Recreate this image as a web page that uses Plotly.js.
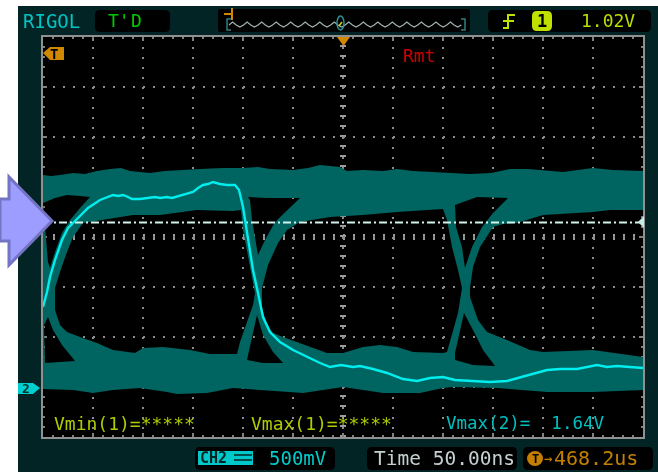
<!DOCTYPE html>
<html><head><meta charset="utf-8">
<script src="https://cdn.plot.ly/plotly-3.0.1.min.js"></script>
<style>html,body{margin:0;padding:0;background:#fff}#chart{filter:blur(0.45px)}</style></head>
<body><div id="chart" style="width:658px;height:472px"></div>
<script>
// Channel 2 acquired trace (x: ns, y: V)
const traceNs = [-300,-296,-293,-288,-281,-275,-265,-255,-243,-236,-230,-225,-220,-215,-211,-203,-196,-188,-183,-176,-171,-160,-150,-145,-140,-135,-130,-123,-116,-108,-104,-100,-96,-90,-85,-80,-73,-63,-50,-36,-23,-13,-2,10,17,30,44,60,74,87,100,112,130,147,164,187,204,217,234,254,264,274,287,300];
const traceV = [.81,.96,1.11,1.28,1.48,1.60,1.70,1.80,1.88,1.91,1.93,1.92,1.93,1.91,1.89,1.89,1.90,1.91,1.90,1.91,1.90,1.93,1.96,2.00,2.03,2.04,2.06,2.04,2.03,2.03,1.98,1.81,1.55,1.18,.95,.71,.56,.46,.38,.31,.25,.21,.23,.21,.22,.19,.15,.09,.07,.10,.11,.08,.07,.06,.07,.13,.18,.19,.19,.23,.21,.22,.21,.20];

// Persistence envelope, outer edge
const topNs = [-300,-292,-283,-270,-258,-246,-233,-222,-213,-203,-193,-178,-163,-143,-120,-100,-85,-73,-50,-35,-23,-12,-3,4,20,40,54,70,87,105,127,148,167,185,205,220,235,250,270,300];
const topV = [2.13,2.12,2.13,2.15,2.14,2.17,2.19,2.20,2.17,2.16,2.15,2.17,2.18,2.19,2.20,2.20,2.21,2.19,2.18,2.20,2.23,2.22,2.21,2.17,2.18,2.17,2.19,2.17,2.16,2.15,2.14,2.15,2.19,2.19,2.17,2.16,2.18,2.20,2.18,2.17];
const bottomNs = [300,250,204,154,110,100,77,40,0,-40,-83,-110,-136,-166,-176,-203,-230,-250,-270,-300];
const bottomV = [-.02,-.04,-.04,0,.01,0,-.05,-.05,.01,-.05,-.02,0,-.05,-.06,-.04,0,-.02,-.05,-.02,-.01];

// Eye openings (black holes in the envelope)
const eyeANs = [-300,-295,-293,-288,-281,-273,-263,-253,-263,-276,-288];
const eyeAV = [1.85,1.26,1.20,1.36,1.55,1.68,1.80,1.91,1.92,1.93,1.90];
const eyeBNs = [-288,-288,-283,-276,-263,-246,-230,-208,-200,-180,-153,-133,-106,-103,-96,-90,-88,-91,-95,-100,-102,-110,-146,-183,-210,-243,-260,-270,-276,-283];
const eyeBV = [1.00,.78,.63,.56,.51,.45,.38,.35,.40,.41,.38,.34,.34,.46,.66,.83,.95,1.11,1.31,1.58,1.78,1.77,1.78,1.73,1.73,1.68,1.65,1.51,1.36,1.16];
const eyeCNs = [-95,-93,-91,-88,-85,-78,-68,-43,-76];
const eyeCV = [1.91,1.88,1.68,1.48,1.33,1.48,1.66,1.90,1.90];
const eyeDNs = [-81,-81,-76,-70,-60,-46,-30,-16,0,20,37,54,70,100,104,109,115,119,115,109,104,100,54,20,-13,-43,-56,-65,-75];
const eyeDV = [1.00,.80,.63,.55,.51,.46,.40,.35,.35,.41,.43,.41,.36,.35,.36,.55,.75,1.00,1.18,1.41,1.68,1.79,1.76,1.73,1.71,1.66,1.58,1.45,1.23];
const eyeENs = [-86,-96,-96,-80,-60,-70,-80];
const eyeEV = [.73,.31,.28,.25,.25,.36,.53];
const eyeFNs = [-295,-299,-298,-283,-268,-281,-290];
const eyeFV = [.71,.63,.25,.26,.27,.43,.58];
const eyeGNs = [112,113,119,122,129,139,150,165,134];
const eyeGV = [1.83,1.61,1.41,1.20,1.41,1.61,1.75,1.90,1.91];
const eyeHNs = [127,127,135,144,164,187,200,250,300,300,267,250,200,174,160,150,137,130];
const eyeHV = [1.00,.91,.68,.56,.48,.38,.36,.38,.31,1.78,1.78,1.76,1.73,1.65,1.64,1.61,1.41,1.21];
const eyeINs = [121,112,112,130,152,140,130];
const eyeIV = [.75,.35,.28,.23,.22,.38,.58];

const triggerLevelV = 1.655;
const timeSpanNs = [-300,300];
const voltSpan = [-0.49,3.51];

const join = (...a) => a.reduce((o,s,i)=> i? o.concat([null],s) : s.slice(), []);
const envX = join(topNs.concat(bottomNs),eyeANs,eyeBNs,eyeCNs,eyeDNs,eyeENs,eyeFNs,eyeGNs,eyeHNs,eyeINs);
const envY = join(topV.concat(bottomV),eyeAV,eyeBV,eyeCV,eyeDV,eyeEV,eyeFV,eyeGV,eyeHV,eyeIV);

const fx = p => (p-43)/600, fy = p => (437-p)/400;
const poly = pts => 'M'+pts.map(p=>fx(p[0])+','+fy(p[1])).join('L')+'Z';
const open = pts => 'M'+pts.map(p=>fx(p[0])+','+fy(p[1])).join('L');
const round = (x0,y0,x1,y1,r) => 'M'+fx(x0+r)+','+fy(y0)+'L'+fx(x1-r)+','+fy(y0)+'Q'+fx(x1)+','+fy(y0)+' '+fx(x1)+','+fy(y0+r)+
  'L'+fx(x1)+','+fy(y1-r)+'Q'+fx(x1)+','+fy(y1)+' '+fx(x1-r)+','+fy(y1)+'L'+fx(x0+r)+','+fy(y1)+'Q'+fx(x0)+','+fy(y1)+' '+fx(x0)+','+fy(y1-r)+
  'L'+fx(x0)+','+fy(y0+r)+'Q'+fx(x0)+','+fy(y0)+' '+fx(x0+r)+','+fy(y0)+'Z';
const P = (path,fill,layer,line) => ({type:'path',xref:'paper',yref:'paper',path,fillcolor:fill,layer:layer||'below',
  line:line||{width:0}});
const none = 'rgba(0,0,0,0)';

// little memory-depth waveform in the top bar
let wave = [];
for (let x=229,i=0; x<=462; x+=3.63,i++) wave.push([x, 25-(i%4===1?3:(i%4===3?-2:0))]);

const shapes = [
  P(poly([[18,6],[658,6],[658,472],[18,472]]),'#032424'),
  P(poly([[43,37],[643,37],[643,437],[43,437]]),'#000'),
  P(round(95,10,170,32,5),'#000'),
  P(round(218,9,470,32,2),'#000'),
  P(round(488,10,651,32,5),'#000'),
  P(round(195,447,335,470,5),'#000'),
  P(round(367,447,517,470,5),'#000'),
  P(round(523,447,653,470,5),'#000'),
  {type:'line',xref:'x',yref:'y',x0:0,x1:0,y0:voltSpan[0],y1:voltSpan[1],layer:'below',line:{color:'#9c9c9c',width:6,dash:'2px,8px'}},
  {type:'line',xref:'x',yref:'y',x0:timeSpanNs[0],x1:timeSpanNs[1],y0:1.51,y1:1.51,layer:'below',line:{color:'#9c9c9c',width:6,dash:'2px,8px'}},
  // top bar waveform
  P(open(wave),none,'above',{color:'#a0b0b0',width:1.3}),
  P(open([[231,19],[227,19],[227,30],[231,30]]),none,'above',{color:'#2f7f80',width:1.5}),
  P(open([[461,19],[465,19],[465,30],[461,30]]),none,'above',{color:'#2f7f80',width:1.5}),
  P(open([[224,14],[232,14]]),none,'above',{color:'#d08800',width:2}),
  P(open([[232,8],[232,20]]),none,'above',{color:'#d08800',width:2}),
  {type:'circle',xref:'paper',yref:'paper',x0:fx(337),x1:fx(344),y0:fy(30),y1:fy(16),layer:'above',line:{color:'#2f8f90',width:1.5},fillcolor:none},
  P(open([[339,26],[342,22]]),none,'above',{color:'#c8d800',width:1.5}),
  // trigger edge icon
  P(open([[503,28],[508,28],[508,15],[515,15]]),none,'above',{color:'#c0e000',width:2}),
  P(open([[503,21],[514,21]]),none,'above',{color:'#c0e000',width:2}),
  P(round(532,11,552,31,5),'#c0e000','above'),
  // markers
  P(poly([[337,37],[350,37],[343.5,46]]),'#d08800','above'),
  P(poly([[43,53],[50,47],[64,47],[64,60],[50,60]]),'#d08800','above'),
  P(poly([[18,383],[33,383],[40,388],[33,394],[18,394]]),'#00cfcf','above'),
  P(poly([[644,216],[638,222],[644,228]]),'#c8ece6','above'),
  // CH2 badge
  P(poly([[198,451],[253,451],[253,465],[198,465]]),'#00c8c8','above'),
  P(open([[234,455],[252,455]]),none,'above',{color:'#032424',width:1.5}),
  P(open([[234,460],[252,460]]),none,'above',{color:'#032424',width:1.5}),
  {type:'circle',xref:'paper',yref:'paper',x0:fx(527),x1:fx(543),y0:fy(466),y1:fy(451),layer:'above',line:{width:0},fillcolor:'#c47f00'},
  // call-out arrow
  P(poly([[0,199],[9,199],[9,177],[52,221],[9,265],[9,241],[0,241]]),'#9d9dff','above',{color:'#7474c4',width:3})
];

const mono = '"DejaVu Sans Mono", monospace';
const A = (text,x,y,color,size,anchor) => ({text,xref:'paper',yref:'paper',x:fx(x),y:fy(y),xanchor:anchor||'left',yanchor:'middle',showarrow:false,
  font:{family:mono,size:size||18,color},borderpad:0});
const annotations = [
  A('RIGOL',22,21,'#00c4c4',19),
  A("T'",107,21,'#00cc00',18),
  A('D',130,21,'#00cc00',18),
  A('<b>1</b>',542,21,'#000',17,'center'),
  A('1.02V',580,21,'#bcdc00',18),
  A('Rmt',402,55,'#d00000',18),
  A('<b>T</b>',54,53.5,'#000',14,'center'),
  A('<b>2</b>',26,388.5,'#02302f',13,'center'),
  A('Vmin(1)=*****',53,423,'#b0cc00',18),
  A('Vmax(1)=*****',250,423,'#b0cc00',18),
  A('Vmax(2)=  1.64V',445,423,'#00c0c0',17.5),
  A('<b>CH2</b>',199,458,'#032424',15),
  A('500mV',268,458,'#00cccc',19),
  A('Time 50.00ns',373,458,'#c4d0d0',19.5),
  A('<b>T</b>',535,458.5,'#000',12,'center'),
  A('→',543,458,'#c47f00',14),
  A('468.2us',553,458,'#c48000',20)
];

const axis = {showticklabels:false,ticks:'inside',ticklen:4,tickwidth:1.5,tickcolor:'#808080',linecolor:'#909090',linewidth:2,mirror:'allticks',
  showgrid:true,gridcolor:'#8c8c8c',gridwidth:2,griddash:'2px,8px',zeroline:false,fixedrange:true,showline:true,layer:'below traces'};

Plotly.newPlot('chart',[
  {x:envX,y:envY,mode:'lines',fill:'toself',fillcolor:'#006460',line:{width:0},hoverinfo:'skip',connectgaps:false,showlegend:false},
  {x:timeSpanNs,y:[triggerLevelV,triggerLevelV],mode:'lines',line:{color:'#d4f2ec',width:2.2,dash:'8px,3px,2px,3px'},hoverinfo:'skip',showlegend:false},
  {x:traceNs,y:traceV,mode:'lines',line:{color:'#00eeee',width:2.4},hoverinfo:'skip',showlegend:false}
],{
  width:658,height:472,margin:{l:43,r:15,t:37,b:35,pad:0},
  paper_bgcolor:'#fff',plot_bgcolor:'#000',showlegend:false,
  xaxis:Object.assign({},axis,{range:timeSpanNs,tick0:0,dtick:50,minor:{dtick:10,ticks:'inside',ticklen:2,tickcolor:'#808080',tickwidth:1.5,showgrid:false}}),
  yaxis:Object.assign({},axis,{range:voltSpan,tick0:0.01,dtick:0.5,minor:{dtick:0.1,tick0:0.01,ticks:'inside',ticklen:2,tickcolor:'#808080',tickwidth:1.5,showgrid:false}}),
  shapes,annotations
},{displayModeBar:false,staticPlot:true});
</script></body></html>
